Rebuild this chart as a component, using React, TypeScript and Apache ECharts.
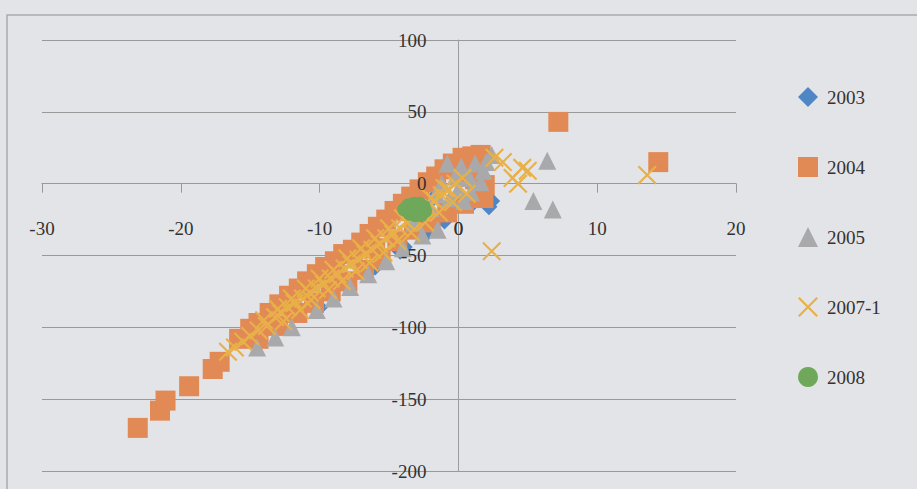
import React, { useEffect, useRef } from "react";
import * as echarts from "echarts";

const seriesNames = ["2003", "2004", "2005", "2007-1", "2008"];
const xTicks = [-30, -20, -10, 0, 10, 20];
const yTicks = [-200, -150, -100, -50, 0, 50, 100];

const data2003: number[][] = [
  [2.2, -16], [2.4, -12], [-3.9, -44], [-4.2, -47], [-1.0, -26], [-2.2, -34],
  [-6.0, -58], [-8.0, -72], [-10.0, -86], [1.0, -14], [0.0, -10], [-1.8, -10],
];

const data2004: number[][] = [
  [-23.1, -170], [-21.5, -158], [-21.1, -151], [-19.4, -141], [-17.7, -129], [-17.2, -124],
  [-15.8, -108], [-15.0, -101], [-14.4, -97], [-13.6, -90], [-12.9, -84], [-12.2, -78],
  [-11.5, -73], [-10.9, -68], [-10.2, -63], [-9.6, -58], [-8.9, -54], [-8.3, -49],
  [-7.6, -46], [-7.0, -41], [-6.4, -35], [-5.8, -30], [-5.2, -25], [-4.6, -19],
  [-4.0, -14], [-3.4, -9], [-2.8, -4], [-2.2, 1], [-1.6, 5], [-1.0, 10],
  [-0.4, 14], [0.3, 18], [1.0, 19], [1.6, 20],
  [-14.4, -108], [-13.0, -99], [-11.6, -90], [-10.4, -83], [-9.2, -75], [-8.0, -68],
  [-6.8, -60], [-5.6, -52], [-4.4, -40], [-3.2, -32], [-2.0, -27], [-0.8, -20],
  [0.4, -14], [1.6, -6], [1.9, -1], [1.2, 3], [0.6, 8], [1.8, -10],
  [-12.0, -88], [-9.0, -66], [-6.0, -45], [-3.0, -22],
  [7.2, 43], [14.4, 15],
];

const data2005: number[][] = [
  [2.4, 20], [6.4, 16], [5.4, -12], [6.8, -18], [-1.5, -32], [-2.6, -36],
  [-10.2, -88], [-14.5, -114], [-9.0, -80], [-6.5, -63], [-4.0, -45], [-5.2, -54],
  [-7.8, -72], [-12.0, -100], [-13.2, -107],
  [-0.8, 14], [0.2, 12], [1.2, 14], [1.8, 9], [-0.2, 5], [0.8, 4], [1.6, 1],
  [-1.2, 0], [0.0, -4], [0.9, -6], [-0.6, -10], [0.4, -12], [-1.6, -7], [2.0, 15],
  [-2.0, -17], [-3.2, -27],
];

const data2007: number[][] = [
  [-16.6, -117], [-16.1, -114], [-15.5, -110], [-15.0, -106], [-14.4, -102], [-13.8, -99],
  [-13.2, -93], [-12.8, -90], [-12.3, -86], [-11.8, -83], [-11.2, -80], [-10.7, -76],
  [-10.2, -73], [-9.7, -70], [-9.2, -66], [-8.7, -63], [-8.2, -59], [-7.7, -56],
  [-7.2, -53], [-6.7, -49], [-6.2, -46], [-5.7, -42], [-5.2, -38], [-4.7, -35],
  [-4.2, -31], [-3.7, -27], [-3.2, -23], [-2.7, -20], [-2.2, -16], [-1.7, -12],
  [-1.2, -8], [-0.7, -4], [-0.2, 0], [0.3, 4],
  [-14.0, -95], [-13.0, -87], [-12.0, -80], [-11.0, -73], [-10.0, -66], [-9.0, -60],
  [-8.0, -52], [-7.0, -45], [-6.0, -38], [-5.0, -31], [-4.0, -24], [-3.0, -17],
  [-2.0, -10], [-1.0, -3],
  [-12.6, -96], [-11.4, -88], [-10.6, -81], [-9.4, -74], [-8.4, -68], [-7.4, -61],
  [-6.4, -55], [-5.4, -48], [-4.4, -40], [-3.4, -34], [-2.4, -27], [-1.4, -20],
  [-0.4, -13], [0.6, -7],
  [3.9, 4], [4.6, 11], [5.0, 9], [3.2, 15], [2.6, 18], [2.4, -47], [13.6, 6], [4.3, 0],
];

const data2008: number[][] = [
  [-3.9, -18], [-3.6, -15], [-3.2, -14], [-2.8, -14], [-2.5, -16], [-2.4, -19],
  [-2.7, -22], [-3.1, -22], [-3.5, -21], [-3.2, -18], [-2.9, -18],
];

const xSymbol =
  "path://M0,0.8L0.8,0L10,9.2L9.2,10Z M9.2,0L10,0.8L0.8,10L0,9.2Z";

const FONT = "Liberation Serif";

// grid geometry
const G_LEFT = 42, G_RIGHT = 181, G_TOP = 40, G_BOTTOM = 18;
const W = 917, H = 489;
const plotW = W - G_LEFT - G_RIGHT;
const plotH = H - G_TOP - G_BOTTOM;
// shift axes so they cross at zero
const yAxisOffset = -plotW * (0 - xTicks[0]) / (xTicks[xTicks.length - 1] - xTicks[0]);
const xAxisOffset = -plotH * (0 - yTicks[0]) / (yTicks[yTicks.length - 1] - yTicks[0]);
const zeroY = G_TOP + plotH + xAxisOffset; // pixel row of y = 0
const zeroX = G_LEFT - yAxisOffset; // pixel column of x = 0

const labelStyleX = {
  fontFamily: FONT, fontSize: 19, color: "#333", margin: 9,
  hideOverlap: false, showMinLabel: true, showMaxLabel: true,
};
const labelStyleY = {
  fontFamily: FONT, fontSize: 19, color: "#333", margin: 32,
  hideOverlap: false, showMinLabel: true, showMaxLabel: true,
};

const xRange = { type: "value", min: xTicks[0], max: xTicks[xTicks.length - 1], interval: 10 };
const yRange = { type: "value", min: yTicks[0], max: yTicks[yTicks.length - 1], interval: 50 };

export default function App() {
  const ref = useRef<HTMLDivElement>(null);
  useEffect(() => {
    if (!ref.current) return;
    const chart = echarts.init(ref.current, undefined, { renderer: "svg" });
    chart.setOption({
      animation: false,
      backgroundColor: "#e3e4e7",
      textStyle: { fontFamily: FONT },
      graphic: [
        {
          type: "rect",
          shape: { x: 7, y: 15, width: 960, height: 520 },
          style: { fill: "none", stroke: "#a9aaad", lineWidth: 1.5 },
          silent: true,
          z: -1,
        },
        {
          // the x-axis "0" tick label, which the axis itself suppresses at the crossing
          type: "text",
          x: zeroX,
          y: zeroY + 45,
          z: 100,
          silent: true,
          style: {
            text: String(xTicks[3]),
            fontFamily: FONT,
            fontSize: 19,
            fill: "#333",
            align: "center",
            verticalAlign: "middle",
          },
        },
      ],
      grid: [
        {
          left: G_LEFT, right: G_RIGHT, top: G_TOP, bottom: G_BOTTOM,
          containLabel: false, outerBoundsMode: "none",
        },
        {
          left: G_LEFT, right: G_RIGHT, top: zeroY + 16, height: 10,
          containLabel: false, outerBoundsMode: "none",
        },
      ],
      legend: {
        orient: "vertical",
        left: 793,
        top: 82,
        itemWidth: 20,
        itemHeight: 20,
        itemGap: 50,
        data: seriesNames,
        textStyle: { fontFamily: FONT, fontSize: 19, color: "#333", padding: [0, 0, 0, 4] },
      },
      xAxis: [
        {
          ...xRange,
          gridIndex: 0,
          position: "bottom",
          offset: xAxisOffset,
          z: 0,
          axisLine: { onZero: false, lineStyle: { color: "#999", width: 1.2 } },
          axisTick: { show: true, length: 9, lineStyle: { color: "#999" } },
          axisLabel: { show: false },
          splitLine: { show: false },
        },
        {
          ...xRange,
          gridIndex: 1,
          position: "bottom",
          z: 10,
          axisLine: { show: false, onZero: false },
          axisTick: { show: false },
          axisLabel: labelStyleX,
          splitLine: { show: false },
        },
      ],
      yAxis: [
        {
          ...yRange,
          gridIndex: 0,
          position: "left",
          offset: yAxisOffset,
          z: 0,
          axisLine: { show: true, onZero: false, lineStyle: { color: "#9c9c9c", width: 1 } },
          axisTick: { show: false },
          axisLabel: { show: false },
          splitLine: { show: true, lineStyle: { color: "#999", width: 1.2 } },
        },
        {
          ...yRange,
          gridIndex: 0,
          position: "left",
          offset: yAxisOffset,
          z: 10,
          axisLine: { show: false, onZero: false },
          axisTick: { show: false },
          axisLabel: labelStyleY,
          splitLine: { show: false },
        },
        {
          type: "value",
          gridIndex: 1,
          show: false,
        },
      ],
      series: [
        {
          name: "2003", type: "scatter", data: data2003, symbol: "diamond", symbolSize: 17,
          itemStyle: { color: "#4f86c6", opacity: 1 },
        },
        {
          name: "2004", type: "scatter", data: data2004, symbol: "rect", symbolSize: 20,
          itemStyle: { color: "#e28a56", opacity: 1 },
        },
        {
          name: "2005", type: "scatter", data: data2005, symbol: "triangle", symbolSize: 18,
          itemStyle: { color: "#a9a9ab", opacity: 1 },
        },
        {
          name: "2007-1", type: "scatter", data: data2007, symbol: xSymbol, symbolSize: 19,
          itemStyle: { color: "#e8b048", opacity: 1 },
        },
        {
          name: "2008", type: "scatter", data: data2008, symbol: "circle", symbolSize: 14,
          itemStyle: { color: "#6fa85a", opacity: 1 },
        },
      ],
    });
    return () => chart.dispose();
  }, []);
  return (
    <div
      ref={ref}
      style={{ position: "absolute", left: 0, top: 0, width: W, height: H }}
    />
  );
}
